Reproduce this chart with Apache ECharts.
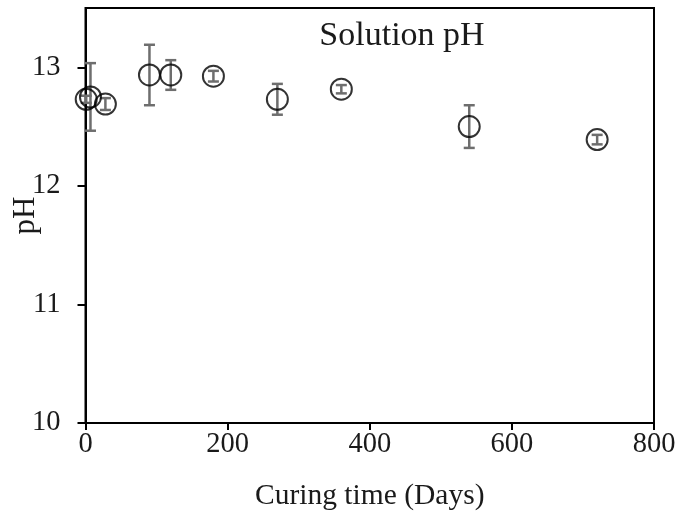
<!DOCTYPE html>
<html>
<head>
<meta charset="utf-8">
<script src="https://cdn.jsdelivr.net/npm/echarts@6/dist/echarts.min.js"></script>
<style>html,body{margin:0;padding:0;background:#fff}#c{width:675px;height:516px}</style>
</head>
<body>
<div id="c"></div>
<script>
// Data
const curingDays = [1, 7, 28, 90, 120, 180, 270, 360, 540, 720];
const phValues   = [12.73, 12.75, 12.69, 12.935, 12.935, 12.925, 12.73, 12.815, 12.50, 12.39];
const phErrors   = [0.03, 0.285, 0.05, 0.255, 0.125, 0.045, 0.13, 0.035, 0.18, 0.04];
const xTicks = [0, 200, 400, 600, 800];
const yTicks = [10, 11, 12, 13];

const FONT = '"Liberation Serif", "Times New Roman", serif';
const points = curingDays.map((d, i) => [d, phValues[i]]);
const bars = curingDays.map((d, i) => [d, phValues[i] - phErrors[i], phValues[i] + phErrors[i]]);

const chart = echarts.init(document.getElementById('c'), null, {renderer: 'canvas'});
chart.setOption({
  animation: false,
  backgroundColor: '#fff',
  title: {
    text: 'Solution pH',
    left: 397, top: 14, textAlign: 'center',
    textStyle: {fontFamily: FONT, fontSize: 34, fontWeight: 'normal', color: '#1a1a1a'}
  },
  grid: {left: 85.5, right: 21, top: 8, bottom: 93, outerBoundsMode: 'none', containLabel: false,
         show: true, borderColor: '#000', borderWidth: 2, backgroundColor: 'transparent'},
  xAxis: {
    type: 'value', min: xTicks[0], max: xTicks[xTicks.length - 1], interval: 200,
    name: 'Curing time (Days)', nameLocation: 'middle', nameGap: 58,
    nameTextStyle: {fontFamily: FONT, fontSize: 29.5, color: '#1a1a1a'},
    axisLine: {lineStyle: {color: '#000', width: 2}},
    axisTick: {show: true, inside: false, length: 7, lineStyle: {color: '#000', width: 2}},
    axisLabel: {fontFamily: FONT, fontSize: 28.5, color: '#1a1a1a', margin: 7},
    splitLine: {show: false}
  },
  yAxis: {
    type: 'value', min: 10, max: 13.5,
    name: 'pH', nameLocation: 'middle', nameGap: 44, nameRotate: 90, nameMoveOverlap: false,
    nameTextStyle: {fontFamily: FONT, fontSize: 31, color: '#1a1a1a'},
    axisLine: {show: true, lineStyle: {color: '#000', width: 2}},
    axisTick: {show: true, length: 8, customValues: yTicks, lineStyle: {color: '#000', width: 2}},
    axisLabel: {fontFamily: FONT, fontSize: 28.5, color: '#1a1a1a', margin: 25, customValues: yTicks},
    splitLine: {show: false}
  },
  series: [
    {
      type: 'custom',
      data: bars,
      z: 2,
      renderItem: function (params, api) {
        const x = api.value(0);
        const lo = api.coord([x, api.value(1)]);
        const hi = api.coord([x, api.value(2)]);
        const hw = 5.5;
        const st = {stroke: '#6e6e6e', lineWidth: 2.5};
        return {
          type: 'group',
          children: [
            {type: 'line', shape: {x1: lo[0], y1: lo[1], x2: hi[0], y2: hi[1]}, style: st},
            {type: 'line', shape: {x1: lo[0] - hw, y1: lo[1], x2: lo[0] + hw, y2: lo[1]}, style: st},
            {type: 'line', shape: {x1: hi[0] - hw, y1: hi[1], x2: hi[0] + hw, y2: hi[1]}, style: st}
          ]
        };
      }
    },
    {
      type: 'scatter',
      data: points,
      z: 3,
      symbol: 'circle',
      symbolSize: 21,
      itemStyle: {color: 'rgba(0,0,0,0)', borderColor: '#000', borderWidth: 2}
    }
  ]
});
</script>
</body>
</html>
